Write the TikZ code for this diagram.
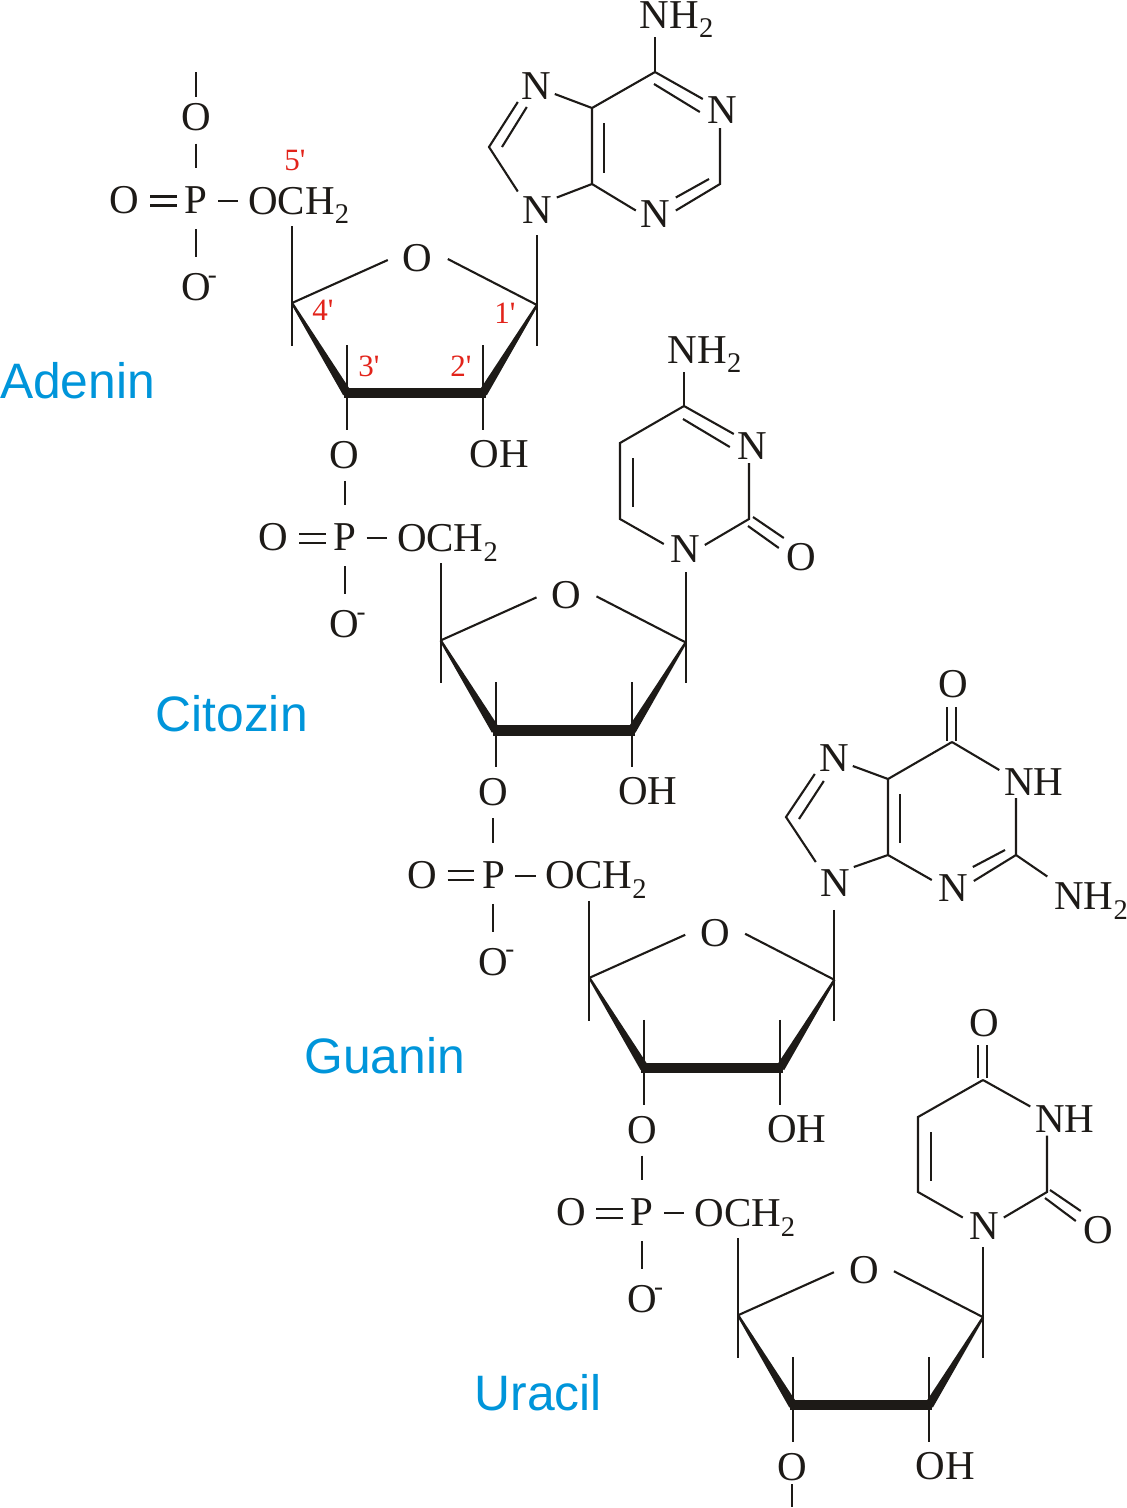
\documentclass[tikz,border=0pt]{standalone}
\usepackage{fontspec}
\setmainfont{Liberation Serif}
\newfontfamily\labelsans{Liberation Sans}
\newfontfamily\numfont{Liberation Serif}
\usetikzlibrary{calc}
\definecolor{ink}{HTML}{1D1A17}
\definecolor{basecol}{HTML}{0095DA}
\definecolor{numred}{HTML}{E2231A}
\newcommand{\subtwo}{\raisebox{-.24em}{\fontsize{28.5}{29}\selectfont 2}}
\newcommand{\minussup}{\rlap{\kern-.07em\raisebox{.42em}{\fontsize{27}{27}\selectfont -}}}
\tikzset{
  atom/.style={inner sep=0pt,outer sep=0pt,text=ink,xshift=.8pt,font=\fontsize{41}{42}\selectfont},
  num/.style={inner sep=0pt,outer sep=0pt,text=numred,font=\numfont\fontsize{31}{32}\selectfont},
  basename/.style={inner sep=0pt,outer sep=0pt,anchor=base west,text=basecol,font=\labelsans\fontsize{49.8}{52}\selectfont},
  bond/.style={draw=ink,line width=2.1pt},
  heavy/.style={draw=ink,line width=10.5pt},
  wedge/.style={fill=ink,draw=none}
}
\begin{document}
\begin{tikzpicture}[x=1pt,y=-1pt]
\useasboundingbox (0,0) rectangle (1127,1508);
% repeated phosphate + sugar units
\foreach \k in {0,1,2,3}{
\begin{scope}[shift={(\k*148.7,\k*337.4)}]
  \coordinate (cf\k) at (292,303);
  \coordinate (ct\k) at (347,393);
  \coordinate (cs\k) at (483,393);
  \coordinate (co\k) at (537,305);
  \node[atom] (po\k) at (195.2,117.5) {O};
  \node[atom] (pd\k) at (124,200) {O};
  \node[atom] (pp\k) at (195.2,200) {P};
  \node[atom] (pm\k) at (195.2,287) {O\minussup};
  \node[atom,anchor=base west] (och\k) at (247.5,214) {OCH\subtwo};
  \node[atom] (ro\k) at (417,258) {O};
  \node[atom] (oh\k) at (498.5,454) {OH};
  \draw[bond] ($(po\k)+(0,26)$) -- ($(pp\k)+(0,-32)$);
  \draw[bond] ($(pd\k)+(25.5,-3.5)$) -- ($(pp\k)+(-19,-3.5)$);
  \draw[bond] ($(pd\k)+(25.5,5.5)$) -- ($(pp\k)+(-19,5.5)$);
  \draw[bond] ($(pp\k)+(22,1)$) -- ($(och\k.base west)+(-10,-13)$);
  \draw[bond] ($(pp\k)+(0,29)$) -- ($(pm\k)+(0,-30)$);
  \draw[bond] (cf\k) -- ($(ro\k)+(-30,2)$);
  \draw[bond] ($(ro\k)+(30,1)$) -- (co\k);
  \draw[bond] ($(cf\k)+(0,-77)$) -- ($(cf\k)+(0,43)$);
  \draw[bond] ($(co\k)+(0,-70)$) -- ($(co\k)+(0,41)$);
  \draw[bond] ($(ct\k)+(0,-48)$) -- ($(ct\k)+(0,37)$);
  \draw[bond] ($(cs\k)+(0,-48)$) -- ($(cs\k)+(0,37)$);
  \fill[wedge] ($(cf\k)+(-1,.6)$) -- ($(ct\k)+(-3.8,2.3)$) -- ($(ct\k)+(3.8,-2.3)$) -- ($(cf\k)+(1,-.6)$) -- cycle;
  \fill[wedge] ($(co\k)+(1,.6)$) -- ($(cs\k)+(3.8,2.3)$) -- ($(cs\k)+(-3.8,-2.3)$) -- ($(co\k)+(-1,-.6)$) -- cycle;
  \draw[heavy] ($(ct\k)+(-3,0)$) -- ($(cs\k)+(3,0)$);
\end{scope}
}
\node[atom] (pb) at (791.2,1467) {O};
% chain ends
\coordinate (topend) at (196,72);
\coordinate (botend) at (792,1507);
\draw[bond] (topend) -- ($(po0)+(0,-21)$);
\draw[bond] ($(pb)+(0,17)$) -- (botend);
% position numbers
\node[num] (n5) at (295,160) {5'};
\node[num] (n4) at (323,310) {4'};
\node[num] (n1) at (505,313) {1'};
\node[num] (n3) at (369,366) {3'};
\node[num] (n2) at (461,366) {2'};
% base names
\node[basename] (lA) at (0,398) {Adenin};
\node[basename] (lC) at (155.5,731) {Citozin};
\node[basename] (lG) at (304.5,1073) {Guanin};
\node[basename] (lU) at (474.5,1410) {Uracil};
% adenine
\coordinate (a6) at (655,72);
\coordinate (a5) at (592,108);
\coordinate (a4) at (592,184);
\coordinate (a2) at (720,184);
\coordinate (a8) at (489,147);
\node[atom] (aN1) at (721,110) {N};
\node[atom] (aN3) at (654,214.5) {N};
\node[atom] (aN7) at (535,86) {N};
\node[atom] (aN9) at (536,210.5) {N};
\node[atom,anchor=base west] (aNH) at (639,28) {NH\subtwo};
\draw[bond] (a6) -- ($(aNH.base west)+(15.2,9)$);
\draw[bond] (a6) -- (a5) -- (a4) -- ($(aN3)+(-19,-4)$);
\draw[bond] ($(aN3)+(21,-4)$) -- (a2) -- ($(aN1)+(-1.8,18)$);
\draw[bond] ($(aN3)+(21,-17)$) -- ($(a2)+(-11,-5)$);
\draw[bond] (a6) -- ($(aN1)+(-19,-11)$);
\draw[bond] ($(a6)+(-1,12)$) -- ($(aN1)+(-22,2)$);
\draw[bond] ($(aN7)+(19,8)$) -- (a5);
\draw[bond] ($(aN7)+(-18,16)$) -- (a8) -- ($(aN9)+(-19,-19)$);
\draw[bond] ($(aN7)+(-9,21)$) -- ($(a8)+(13,0)$);
\draw[bond] ($(aN9)+(20,-13)$) -- (a4);
\draw[bond] ($(a5)+(12,15)$) -- ($(a4)+(12,-11)$);
% cytosine
\coordinate (y4) at (684,406);
\coordinate (y5) at (620,443);
\coordinate (y6) at (620,519);
\coordinate (y2) at (749,519);
\node[atom] (yN1) at (684,549) {N};
\node[atom] (yN3) at (751,446) {N};
\node[atom] (yO) at (800,557) {O};
\node[atom,anchor=base west] (yNH) at (667,363) {NH\subtwo};
\draw[bond] (y4) -- ($(yNH.base west)+(16.2,9)$);
\draw[bond] (y4) -- (y5) -- (y6) -- ($(yN1)+(-21,-5)$);
\draw[bond] ($(yN1)+(20,-4)$) -- (y2) -- ($(yN3)+(-2.8,17)$);
\draw[bond] (y4) -- ($(yN3)+(-18,-12)$);
\draw[bond] ($(y4)+(-1,13)$) -- ($(yN3)+(-22,1)$);
\draw[bond] ($(y5)+(13,15)$) -- ($(y6)+(13,-12)$);
\draw[bond] ($(y2)+(4,-2)$) -- ($(yO)+(-17,-19)$);
\draw[bond] ($(y2)+(-1,7)$) -- ($(yO)+(-22,-9)$);
% guanine
\coordinate (g6) at (952,742);
\coordinate (g5) at (888,779);
\coordinate (g4) at (888,855);
\coordinate (g2) at (1016,855);
\coordinate (g8) at (786,817);
\node[atom] (gN3) at (952,888) {N};
\node[atom] (gN7) at (833,758) {N};
\node[atom] (gN9) at (834,883) {N};
\node[atom] (gO) at (952,684) {O};
\node[atom,anchor=base west] (gNH) at (1003.5,795) {NH};
\node[atom,anchor=base west] (gNT) at (1053.5,909.5) {NH\subtwo};
\draw[bond] ($(gO)+(-5.8,23)$) -- ($(g6)+(-5,-1)$);
\draw[bond] ($(gO)+(3.2,23)$) -- ($(g6)+(4,-1)$);
\draw[bond] (g6) -- (g5) -- (g4) -- ($(gN3)+(-21,-8)$);
\draw[bond] (g6) -- ($(gNH.base west)+(-5,-25)$);
\draw[bond] ($(gNH.base west)+(11.7,3)$) -- (g2) -- ($(gN3)+(21,-7)$);
\draw[bond] ($(gN3)+(20,-21)$) -- ($(g2)+(-11,-5)$);
\draw[bond] (g2) -- ($(gNT.base west)+(-7,-33)$);
\draw[bond] ($(gN7)+(19,8)$) -- (g5);
\draw[bond] ($(gN7)+(-19,16)$) -- (g8) -- ($(gN9)+(-19,-21)$);
\draw[bond] ($(gN7)+(-10,23)$) -- ($(g8)+(13,2)$);
\draw[bond] ($(gN9)+(19,-16)$) -- (g4);
\draw[bond] ($(g5)+(12,15)$) -- ($(g4)+(12,-12)$);
% uracil
\coordinate (u4) at (983,1080);
\coordinate (u5) at (918,1117);
\coordinate (u6) at (918,1192);
\coordinate (u2) at (1047,1192);
\node[atom] (uN1) at (983,1226.5) {N};
\node[atom] (uO4) at (983,1023) {O};
\node[atom] (uO2) at (1097,1230) {O};
\node[atom,anchor=base west] (uNH) at (1034.5,1132.5) {NH};
\draw[bond] ($(uO4)+(-5.8,22)$) -- ($(u4)+(-5,-2)$);
\draw[bond] ($(uO4)+(3.2,22)$) -- ($(u4)+(4,-2)$);
\draw[bond] (u4) -- (u5) -- (u6) -- ($(uN1)+(-21,-9)$);
\draw[bond] (u4) -- ($(uNH.base west)+(-5,-26)$);
\draw[bond] ($(uN1)+(20,-9)$) -- (u2) -- ($(uNH.base west)+(11.7,3)$);
\draw[bond] ($(u5)+(13,15)$) -- ($(u6)+(13,-11)$);
\draw[bond] ($(u2)+(3,-2)$) -- ($(uO2)+(-17,-19)$);
\draw[bond] ($(u2)+(-2,6)$) -- ($(uO2)+(-22,-9)$);
\end{tikzpicture}
\end{document}
